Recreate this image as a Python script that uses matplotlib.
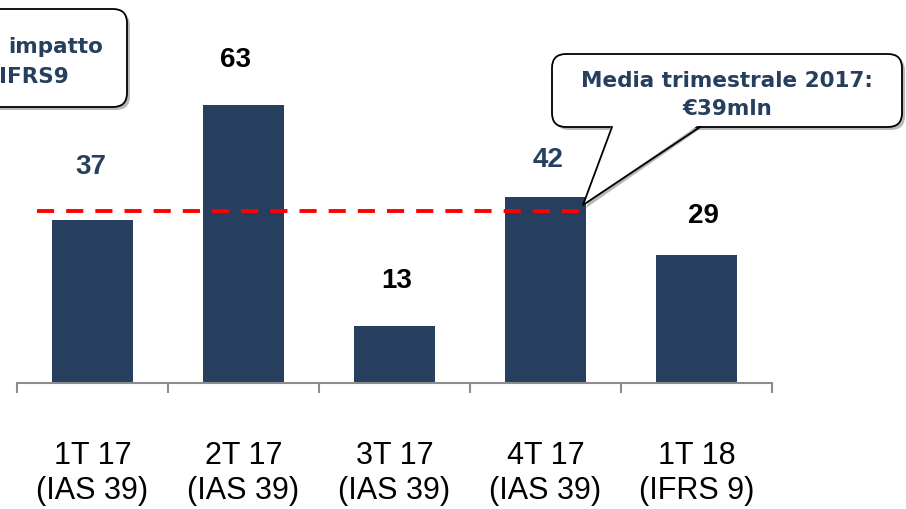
import matplotlib
matplotlib.use('Agg')
import matplotlib.pyplot as plt
from matplotlib.patches import FancyBboxPatch, Polygon
from matplotlib.lines import Line2D
from matplotlib.transforms import Affine2D

# dati
categories = ['1T 17\n(IAS 39)', '2T 17\n(IAS 39)', '3T 17\n(IAS 39)', '4T 17\n(IAS 39)', '1T 18\n(IFRS 9)']
values = [37, 63, 13, 42, 29]
media_2017 = 39
callout_right = 'Media trimestrale 2017:\n€39mln'
callout_left = ['impatto', 'IFRS9']

# stile
navy = '#263F5E'
label_colors = [navy, 'black', 'black', navy, 'black']
label_dy = [54, 46, 46, 38, 40]   # pixel sopra la barra
label_dx = [-2, -8, 2, 3, 7]
W, H = 906, 510

plt.rcParams['font.family'] = ['Liberation Sans', 'DejaVu Sans']

fig = plt.figure(figsize=(W / 100, H / 100), dpi=100)
ax = fig.add_axes([17 / W, (H - 384) / H, 755 / W, 384 / H])

x = list(range(len(values)))
ax.bar(x, values, width=0.54, color=navy, zorder=2)

for i, v in enumerate(values):
    ax.annotate(str(v), (i, v), xytext=(label_dx[i], label_dy[i]), textcoords='offset pixels',
                ha='center', va='center', fontsize=20, fontweight='bold', color=label_colors[i])

# linea media 2017
ax.hlines(media_2017, -0.37, 3.27, colors='#FF0000', linestyles=(0, (4.4, 3.1)), linewidth=2.8, zorder=3)

ax.set_xlim(-0.5, 4.5)
ax.set_ylim(0, 86.9)
for s in ['left', 'top', 'right']:
    ax.spines[s].set_visible(False)
ax.spines['bottom'].set_color('#8C8C8C')
ax.spines['bottom'].set_linewidth(1.5)
ax.set_yticks([])

ax.set_xticks([i - 0.5 for i in range(len(values) + 1)])
ax.set_xticklabels([])
ax.tick_params(axis='x', which='major', length=7.5, width=1.5, color='#8C8C8C', direction='out')
ax.set_xticks(x, minor=True)
ax.set_xticklabels(categories, minor=True, fontsize=22, linespacing=1.2)
ax.tick_params(axis='x', which='minor', length=0, pad=41)

# callout in coordinate pixel (y verso il basso)
tpx = Affine2D().scale(1 / W, -1 / H).translate(0, 1) + fig.transFigure


def box(x0, y0, x1, y1, sh=3):
    shadow = FancyBboxPatch((x0 + sh, y0 + sh), x1 - x0, y1 - y0, boxstyle='round,pad=0,rounding_size=14',
                            transform=tpx, facecolor='#8A8A8A', edgecolor='none', alpha=0.6, zorder=5)
    b = FancyBboxPatch((x0, y0), x1 - x0, y1 - y0, boxstyle='round,pad=0,rounding_size=14',
                       transform=tpx, facecolor='white', edgecolor='black', linewidth=1.3, zorder=6)
    fig.add_artist(shadow)
    fig.add_artist(b)


box(-20, 10, 127, 108)
fig.text(8 / W, 1 - 47 / H, callout_left[0], ha='left', va='center', fontsize=15.5, fontweight='bold',
         color=navy, family='DejaVu Sans', zorder=8)
fig.text(-1 / W, 1 - 77 / H, callout_left[1], ha='left', va='center', fontsize=15.5, fontweight='bold',
         color=navy, family='DejaVu Sans', zorder=8)

box(552, 55, 902, 128)
tail = [(612, 125), (700, 125), (583, 206)]
fig.add_artist(Polygon([(px + 3, py + 3) for px, py in tail], closed=True, transform=tpx,
                       facecolor='#8A8A8A', edgecolor='none', alpha=0.6, zorder=5))
fig.add_artist(Polygon(tail, closed=True, transform=tpx, facecolor='white', edgecolor='none', zorder=7))
fig.add_artist(Line2D([612, 583, 700], [128, 206, 128], transform=tpx, color='black', linewidth=1.3, zorder=7))
fig.text(727 / W, 1 - 95 / H, callout_right, ha='center', va='center', fontsize=15.5, fontweight='bold',
         color=navy, family='DejaVu Sans', linespacing=1.45, zorder=8)

fig.savefig('out.png', dpi=100)
